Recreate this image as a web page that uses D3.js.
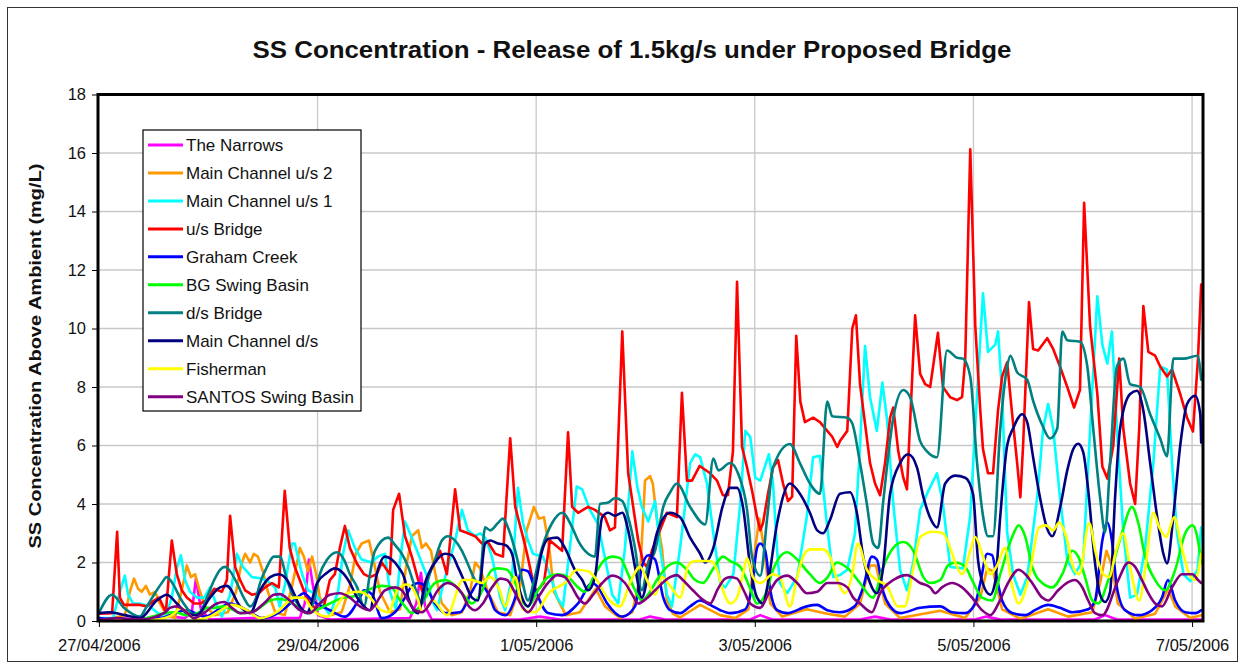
<!DOCTYPE html>
<html><head><meta charset="utf-8">
<script src="https://cdn.jsdelivr.net/npm/d3@7"></script>
<style>
body{margin:0;background:#fff}
svg{display:block}
text{font-family:Arial,"Liberation Sans",sans-serif;fill:#111}
</style>
</head><body>
<svg id="chart" width="1245" height="670"></svg>
<script>
// ---------------- DATA (hours since 27/04/2006 00:00, value mg/L) ----------------
const chartTitle = "SS Concentration - Release of 1.5kg/s under Proposed Bridge";
const yTitle = "SS Concentration Above Ambient (mg/L)";
const yTickValues = [0,2,4,6,8,10,12,14,16,18];
const xTickDays = ["2006-04-27","2006-04-29","2006-05-01","2006-05-03","2006-05-05","2006-05-07"];
const seriesNames = ["The Narrows","Main Channel u/s 2","Main Channel u/s 1","u/s Bridge","Graham Creek","BG Swing Basin","d/s Bridge","Main Channel d/s","Fisherman","SANTOS Swing Basin"];
const seriesColors = ["#ff00ff","#ff9900","#00ffff","#ff0000","#0000ff","#00ff00","#008080","#000080","#ffff00","#800080"];

const theNarrows = [[0,0.02],[6.8,0.05],[15.6,0.15],[18.9,0.1],[20.4,0.3],[21.3,1.45],[22.4,0.4],[24.4,0.05],[33.2,0.1],[44.1,0.1],[45.2,0.6],[46.1,2.1],[47.0,1.2],[48.1,0.2],[50.7,0.05],[68.3,0.1],[69.7,0.6],[70.7,1.65],[71.6,0.5],[73.1,0.05],[92.5,0.05],[96.8,0.15],[101.2,0.05],[118.8,0.05],[121.0,0.15],[124.3,0.05],[143.0,0.05],[145.2,0.2],[147.8,0.05],[167.1,0.05],[170.4,0.15],[173.7,0.05],[192.4,0.05],[194.8,0.15],[197.9,0.05],[218.7,0.05],[220.9,0.2],[223.5,0.05],[242,0.05]];

const mainChannelUs2 = [[0,0],[5.7,0.2],[6.8,1.0],[7.7,1.45],[8.6,1.1],[9.4,1.0],[10.3,1.2],[11.2,0.9],[12.3,1.0],[13.4,0.6],[14.9,0.2],[16.7,0.1],[18.4,1.2],[19.3,1.9],[20.2,1.5],[21.1,1.6],[22.0,1.1],[23.3,0.5],[25.5,0.2],[28.3,0.3],[30.1,1.0],[31.2,1.9],[32.1,2.3],[33.2,2.0],[34.0,2.3],[34.9,2.2],[36.0,1.7],[37.1,1.0],[38.7,0.3],[40.8,0.2],[42.4,1.2],[43.5,2.0],[44.1,2.5],[45.0,2.2],[45.9,1.7],[46.8,2.2],[47.7,1.6],[48.5,0.8],[50.7,0.2],[53.3,0.3],[55.1,1.2],[56.4,2.3],[57.7,2.65],[59.3,2.75],[60.4,2.0],[61.7,1.0],[63.9,0.3],[66.1,0.4],[67.4,1.8],[68.7,2.9],[70.1,3.1],[70.9,2.5],[71.8,2.65],[72.9,2.4],[74.0,1.5],[75.3,0.6],[77.5,0.2],[79.7,0.3],[81.5,1.0],[82.6,2.0],[83.7,1.8],[85.4,1.0],[87.6,0.3],[90.3,0.2],[92.5,1.2],[93.9,3.1],[94.8,3.55],[95.5,3.9],[96.6,3.5],[97.7,3.55],[98.8,2.6],[99.9,1.0],[102.5,0.2],[105.6,0.3],[107.8,0.8],[109.1,1.1],[111.1,0.5],[114.4,0.1],[117.1,0.3],[118.8,1.5],[119.9,4.8],[121.0,4.95],[121.6,4.7],[122.5,3.5],[123.6,2.5],[124.7,0.7],[126.0,0.25],[127.6,0.12],[132.0,0.55],[136.4,0.2],[139.7,0.1],[142.6,0.4],[144.1,2.5],[145.0,3.5],[146.1,2.4],[147.4,0.6],[150.0,0.15],[155.4,0.4],[159.9,0.25],[163.8,0.15],[167.1,0.6],[169.3,1.9],[170.6,1.9],[172.6,0.6],[175.9,0.1],[184.7,0.35],[190.2,0.1],[193.5,0.8],[195.0,1.8],[196.3,1.7],[198.3,0.4],[202.3,0.08],[208.4,0.4],[212.8,0.15],[218.1,0.3],[219.8,1.3],[221.2,2.4],[222.4,1.9],[223.7,0.6],[227.5,0.08],[231.9,0.25],[234.1,0.9],[234.7,1.1],[236.3,0.5],[239.6,0.1],[242,0.2]];

const mainChannelUs1 = [[0,0.1],[3.1,0.1],[4.6,1.0],[5.7,1.55],[6.4,0.9],[7.5,0.6],[9.0,0.6],[11.2,0.5],[12.7,0.3],[14.5,0.1],[16.0,0.8],[17.1,1.8],[18.0,2.25],[18.9,1.4],[20.0,1.0],[21.5,0.8],[23.1,0.8],[24.4,1.15],[25.7,0.6],[27.0,0.15],[28.8,0.9],[30.3,2.3],[31.6,1.85],[33.6,1.5],[35.8,1.45],[37.1,1.35],[38.7,1.15],[39.7,0.5],[40.8,1.2],[42.4,2.65],[43.0,2.65],[44.6,1.6],[45.9,1.05],[47.4,0.95],[49.0,0.6],[50.7,0.2],[52.5,1.0],[53.6,2.3],[54.7,3.1],[56.2,2.5],[57.7,2.1],[59.9,2.0],[61.2,2.2],[62.8,2.3],[63.9,1.0],[65.2,0.4],[66.1,2.0],[67.2,3.4],[68.3,3.0],[70.1,2.3],[72.1,1.5],[73.1,0.7],[74.2,0.37],[76.0,1.5],[78.2,2.75],[79.7,3.8],[81.0,3.1],[82.6,2.9],[83.7,3.0],[84.8,2.85],[86.3,2.2],[88.1,0.8],[89.2,0.37],[90.7,1.5],[92.0,4.55],[93.1,3.35],[94.2,2.75],[95.3,2.3],[97.5,2.2],[99.0,1.6],[100.6,0.8],[101.9,0.5],[103.4,2.5],[104.9,4.6],[106.1,4.5],[107.8,3.8],[109.6,3.3],[111.3,2.0],[112.7,0.9],[114.0,0.6],[115.5,2.5],[117.1,5.8],[118.2,4.6],[119.2,3.9],[120.6,3.4],[122.1,4.1],[123.2,2.5],[124.7,0.9],[125.8,0.5],[127.6,2.5],[129.8,5.4],[130.9,5.7],[132.0,5.6],[133.5,4.7],[134.9,3.0],[136.4,1.3],[137.5,1.15],[139.3,1.6],[140.8,4.0],[141.9,6.5],[143.0,6.3],[144.1,4.9],[145.2,4.8],[147.1,5.7],[148.0,4.7],[148.9,2.4],[149.5,1.3],[151.1,0.95],[153.3,1.5],[155.4,3.55],[156.8,5.6],[158.3,5.65],[159.7,3.5],[161.2,1.5],[162.7,1.57],[164.3,1.75],[166.0,3.0],[167.1,6.0],[168.2,9.4],[169.3,7.65],[170.8,6.5],[172.0,8.15],[173.0,6.95],[174.4,4.0],[175.9,1.75],[177.4,1.05],[178.8,2.0],[180.3,3.8],[182.1,4.45],[184.0,5.05],[185.3,4.0],[186.9,1.85],[189.7,1.8],[191.3,3.6],[192.8,7.76],[194.1,11.2],[195.2,9.2],[196.8,9.45],[197.4,9.9],[198.3,7.76],[199.4,3.03],[200.7,1.6],[202.3,0.9],[203.8,1.5],[206.0,4.23],[207.3,6.58],[208.4,7.42],[209.5,6.58],[211.0,4.23],[212.6,2.1],[214.3,1.6],[216.1,2.1],[217.6,6.5],[219.2,11.1],[220.3,9.45],[221.4,8.8],[222.4,9.9],[223.5,6.58],[224.9,3.03],[226.4,0.8],[227.9,0.9],[229.7,2.5],[231.5,5.4],[233.0,8.7],[234.5,8.6],[235.6,5.4],[236.7,3.0],[238.1,1.6],[239.6,1.36],[241.2,1.75],[242,3.2]];

const usBridge = [[0,0.25],[2.9,0.27],[4.0,3.05],[4.6,0.8],[5.5,0.55],[9.0,0.55],[10.5,0.5],[12.1,0.7],[13.2,0.8],[14.7,0.3],[16.0,2.75],[17.1,1.6],[18.2,1.05],[19.3,0.8],[20.9,0.6],[22.2,0.6],[23.7,0.7],[25.3,1.1],[27.0,1.0],[28.1,1.4],[28.8,3.6],[29.9,1.85],[31.0,1.4],[32.1,1.05],[33.6,0.9],[35.1,0.95],[36.5,1.15],[38.0,1.3],[39.5,1.15],[40.8,4.45],[41.9,2.5],[43.0,1.85],[44.1,1.4],[45.2,0.95],[46.3,0.6],[47.9,0.4],[49.4,0.5],[50.7,1.4],[51.8,1.6],[52.9,2.5],[54.0,3.25],[55.1,2.5],[56.7,1.95],[58.2,1.6],[59.5,1.5],[61.0,1.6],[62.1,2.0],[63.9,1.6],[64.6,3.8],[65.9,4.35],[67.2,2.9],[68.7,2.2],[70.1,1.4],[71.2,0.95],[73.1,1.85],[74.9,2.4],[76.4,1.6],[78.2,4.5],[79.3,3.1],[81.0,3.0],[82.6,2.9],[84.1,2.65],[85.4,2.7],[87.0,2.3],[88.7,2.2],[90.3,6.25],[91.4,3.9],[92.9,3.0],[94.0,2.3],[95.1,1.5],[96.0,1.0],[97.7,1.3],[99.0,2.75],[101.7,2.4],[103.0,6.45],[103.9,3.9],[105.2,3.7],[107.4,3.9],[108.9,3.8],[111.1,3.55],[112.2,3.1],[113.3,3.2],[114.9,9.9],[116.2,5.05],[117.3,3.9],[118.4,2.75],[119.5,2.0],[120.3,1.85],[121.4,2.4],[124.7,3.7],[126.9,3.55],[128.0,7.8],[129.1,4.8],[130.2,4.8],[131.9,5.3],[134.2,5.05],[135.7,4.8],[137.0,4.3],[138.1,4.3],[139.2,5.8],[140.1,11.6],[141.2,5.95],[142.3,5.25],[143.4,4.45],[144.5,3.55],[145.2,3.1],[145.8,3.35],[146.9,4.35],[148.0,5.25],[149.1,5.5],[150.2,4.7],[151.3,4.1],[152.2,4.25],[153.1,9.75],[154.0,7.5],[155.0,6.8],[156.8,6.95],[158.3,6.8],[159.9,6.5],[161.0,6.3],[162.1,5.95],[162.7,6.15],[164.3,6.5],[165.4,10.0],[166.2,10.45],[167.1,8.1],[168.2,6.75],[169.3,5.4],[170.4,4.7],[171.5,4.3],[172.6,5.4],[173.7,6.95],[174.4,7.3],[175.5,5.8],[176.6,4.9],[177.4,4.5],[179.2,10.45],[180.3,8.45],[181.4,8.1],[182.5,8.0],[184.2,9.85],[185.3,8.0],[186.9,7.65],[188.4,7.55],[189.5,7.65],[190.2,8.97],[191.3,16.13],[192.4,10.1],[193.5,7.2],[194.1,5.87],[195.2,5.05],[196.3,5.05],[197.4,7.2],[198.3,8.36],[199.4,8.84],[200.5,7.07],[201.6,5.4],[202.3,4.23],[202.9,6.0],[204.2,10.9],[205.1,9.3],[206.2,9.25],[208.2,9.67],[209.5,9.3],[211.0,8.7],[212.6,8.0],[214.1,7.3],[215.4,7.9],[216.3,14.3],[217.6,10.1],[219.2,7.76],[220.3,5.28],[221.4,4.87],[222.7,6.0],[224.0,8.97],[224.9,6.58],[226.4,4.7],[227.5,4.0],[228.4,6.58],[229.3,10.77],[230.4,9.2],[231.9,9.07],[233.0,8.7],[234.5,8.36],[235.6,8.6],[237.4,7.76],[238.9,6.95],[240.2,6.48],[241.3,8.97],[242,11.5]];

const grahamCreek = [[0,0.1],[4.6,0.05],[13.4,0.1],[19.3,0.37],[23.3,0.15],[28.8,0.6],[32.5,0.37],[35.8,0.1],[39.7,0.3],[43.5,0.8],[45.0,0.95],[46.8,0.7],[50.7,0.37],[54.0,0.15],[57.3,0.8],[58.2,1.05],[60.0,0.9],[62.1,0.1],[65.0,0.3],[67.2,0.8],[68.7,1.2],[70.1,1.3],[71.6,1.2],[73.8,0.6],[76.0,0.27],[79.3,0.3],[81.9,1.0],[83.2,1.3],[85.6,0.9],[87.0,0.37],[89.2,0.2],[91.4,0.8],[92.9,1.75],[94.2,1.7],[95.7,1.1],[98.6,0.27],[101.7,0.2],[105.2,0.6],[108.3,1.3],[109.6,1.15],[111.6,0.6],[114.9,0.15],[117.7,0.5],[119.2,1.85],[120.6,2.25],[122.1,2.1],[123.9,0.8],[125.4,0.37],[127.6,0.27],[129.8,0.5],[132.0,0.7],[134.2,0.55],[136.4,0.37],[138.6,0.27],[141.9,0.4],[143.4,1.2],[144.5,2.5],[145.2,2.65],[146.3,2.4],[147.4,1.05],[148.9,0.37],[151.1,0.27],[155.4,0.5],[157.7,0.55],[159.9,0.37],[162.7,0.3],[165.9,0.5],[167.8,1.15],[169.7,2.2],[170.8,2.1],[172.2,1.0],[173.7,0.5],[175.9,0.27],[180.3,0.45],[184.7,0.5],[187.3,0.3],[190.2,0.27],[192.4,0.6],[193.5,1.3],[195.0,2.3],[196.1,2.25],[197.1,1.5],[198.3,0.7],[200.5,0.27],[203.4,0.2],[205.5,0.37],[208.4,0.55],[211.0,0.45],[213.7,0.3],[217.2,0.4],[218.7,0.7],[220.3,2.75],[221.4,3.37],[222.4,2.75],[223.5,1.15],[225.3,0.37],[228.2,0.2],[231.2,0.37],[233.4,0.8],[234.7,1.4],[236.3,0.7],[238.5,0.3],[240.7,0.27],[242,0.37]];

const bgSwingBasin = [[0,0.02],[9.0,0.05],[12.7,0.2],[14.3,0.27],[16.7,0.3],[19.3,0.2],[22.2,0.3],[23.7,0.45],[25.3,0.45],[27.5,0.5],[29.2,0.4],[31.0,0.27],[34.3,0.35],[37.6,0.7],[39.5,0.75],[41.3,0.7],[43.5,0.5],[45.7,0.27],[48.1,0.4],[50.7,0.6],[53.8,0.8],[56.0,0.85],[58.2,1.0],[60.6,1.15],[62.1,1.2],[64.3,1.15],[65.7,0.8],[67.2,0.5],[68.7,0.27],[70.9,0.6],[73.8,1.3],[76.0,1.4],[77.5,1.3],[79.7,0.95],[81.9,0.6],[83.7,0.9],[86.3,1.75],[87.6,1.8],[89.6,1.75],[91.4,1.3],[92.9,0.7],[94.2,0.5],[96.4,1.05],[98.6,1.5],[100.8,1.6],[103.0,1.5],[105.2,1.15],[106.7,1.0],[108.9,1.6],[111.1,2.1],[112.7,2.2],[114.4,2.15],[116.2,1.6],[117.7,1.05],[119.2,0.7],[121.0,1.0],[122.5,1.4],[124.7,1.85],[126.9,2.0],[129.1,1.75],[130.9,1.4],[132.6,1.3],[134.9,1.8],[137.0,2.2],[138.6,2.05],[140.8,1.85],[143.0,1.1],[144.5,0.6],[146.3,0.9],[148.0,1.75],[151.1,2.35],[153.3,2.1],[156.1,1.6],[158.3,1.3],[160.0,1.5],[162.0,2.0],[164.4,1.8],[167.1,1.3],[169.9,0.8],[172.2,1.85],[174.4,2.5],[176.6,2.7],[178.8,2.4],[181.0,1.5],[182.5,1.3],[184.7,1.4],[186.4,1.9],[188.0,2.0],[190.2,1.85],[191.7,1.4],[193.9,0.8],[196.1,0.7],[197.9,1.6],[200.5,2.87],[201.9,3.27],[203.4,2.87],[204.9,1.85],[207.1,1.3],[209.3,1.15],[211.5,1.6],[213.7,2.4],[215.0,2.2],[216.5,1.5],[218.1,0.7],[219.4,0.6],[221.6,1.4],[224.6,3.0],[226.8,3.9],[228.2,3.35],[229.7,2.2],[231.9,1.4],[234.1,1.05],[236.3,1.75],[238.5,3.0],[240.1,3.27],[241.3,2.75],[242,2.0]];

const dsBridge = [[0,0.27],[2.9,0.9],[5.5,0.45],[9.0,0.15],[10.5,0.5],[12.3,0.95],[13.8,1.3],[14.9,1.5],[16.5,1.2],[17.8,0.8],[19.3,0.45],[20.9,0.2],[22.2,0.3],[23.7,0.8],[25.3,1.4],[26.6,1.75],[27.7,1.85],[28.8,1.7],[30.3,1.3],[31.8,0.8],[33.2,0.5],[34.5,0.8],[35.4,1.3],[36.9,1.85],[38.4,2.2],[39.7,2.2],[41.3,1.4],[42.8,0.8],[44.1,0.5],[45.7,0.27],[47.2,0.7],[48.5,1.6],[50.1,2.1],[52.3,2.35],[53.8,2.1],[55.1,1.6],[56.7,1.15],[58.2,0.5],[59.5,1.6],[60.6,2.4],[63.5,2.85],[65.0,2.6],[66.5,2.3],[67.9,1.85],[69.4,1.15],[70.9,0.6],[72.2,1.4],[73.8,2.1],[75.3,2.75],[76.6,2.9],[78.2,2.75],[79.7,2.4],[81.0,1.95],[82.6,1.4],[83.5,1.3],[84.8,3.2],[85.9,3.1],[87.6,3.35],[88.7,3.5],[89.8,3.2],[91.4,2.4],[92.9,1.4],[94.2,0.7],[95.7,1.5],[97.3,2.5],[99.5,3.35],[101.7,3.7],[103.9,3.2],[105.2,2.75],[107.4,2.3],[108.9,2.2],[110.0,4.0],[111.8,4.05],[113.3,4.2],[114.9,4.1],[116.2,3.55],[117.7,2.5],[119.2,1.05],[120.6,1.95],[122.1,2.4],[123.9,3.9],[125.4,4.4],[126.9,4.7],[129.8,3.9],[133.1,3.3],[134.9,5.55],[136.0,5.15],[138.6,5.4],[140.3,5.05],[142.3,3.8],[143.4,2.2],[145.2,1.55],[146.7,3.5],[148.0,5.25],[151.7,6.05],[153.9,5.4],[156.1,4.7],[158.3,4.35],[159.9,7.5],[161.0,7.0],[164.3,6.95],[165.4,6.75],[167.1,5.4],[168.6,4.0],[170.0,2.65],[171.1,2.5],[172.2,4.1],[174.4,6.95],[176.6,7.9],[178.1,7.65],[180.3,6.15],[181.8,5.8],[184.0,5.6],[186.2,9.25],[188.4,9.0],[189.7,8.97],[191.3,8.36],[192.8,5.4],[194.1,3.6],[195.2,2.9],[196.3,2.9],[197.9,6.58],[199.4,8.7],[200.1,9.07],[201.6,8.5],[203.8,8.25],[205.1,7.53],[207.1,6.7],[208.8,6.24],[210.4,6.58],[211.5,9.9],[212.6,9.6],[215.4,9.55],[217.0,8.7],[218.3,6.58],[219.8,4.23],[220.9,3.03],[222.0,5.4],[223.5,8.7],[224.9,8.97],[226.4,8.1],[228.6,8.0],[230.8,7.07],[233.0,6.24],[234.5,5.63],[235.9,8.97],[238.1,8.97],[241.2,9.07],[242,8.25]];

const mainChannelDs = [[0,0.27],[2.4,0.3],[5.7,0.2],[9.0,0.1],[12.7,0.7],[14.9,0.9],[17.1,0.6],[19.3,0.27],[21.5,0.2],[24.4,0.8],[26.6,1.15],[28.1,1.2],[31.0,0.5],[33.2,0.27],[35.4,1.05],[37.6,1.5],[39.5,1.6],[41.3,1.4],[42.8,0.95],[44.1,0.5],[45.7,0.3],[47.9,1.3],[50.1,1.65],[51.8,1.8],[53.8,1.6],[55.1,1.3],[56.7,0.8],[58.2,0.5],[59.5,0.37],[61.0,1.6],[62.8,2.2],[64.3,2.1],[65.7,1.85],[67.2,1.4],[67.9,0.8],[70.1,0.27],[71.6,1.3],[73.8,2.0],[76.0,2.3],[77.5,2.25],[78.8,1.85],[80.4,1.3],[81.9,0.8],[83.2,0.7],[84.8,2.65],[85.9,2.75],[87.6,2.65],[89.2,2.6],[90.7,2.3],[91.8,1.4],[92.9,0.8],[94.2,0.5],[95.7,1.15],[97.3,2.4],[98.6,2.8],[100.6,2.85],[102.3,2.5],[104.5,1.75],[106.1,1.4],[107.4,1.05],[108.9,1.5],[110.5,3.55],[111.8,3.7],[113.3,3.6],[114.9,3.7],[116.2,3.1],[117.7,1.85],[119.2,0.8],[120.6,1.6],[122.5,3.0],[125.4,3.7],[127.6,3.55],[129.8,2.85],[132.0,2.3],[133.1,2.0],[134.9,2.5],[136.9,3.9],[138.6,4.55],[140.1,4.55],[141.4,3.9],[143.0,1.85],[144.5,0.8],[145.8,0.6],[146.9,1.3],[148.9,3.35],[151.7,4.7],[153.9,4.35],[156.1,3.7],[157.7,3.1],[159.0,3.0],[160.5,3.45],[162.7,4.35],[164.9,4.4],[166.4,3.7],[167.8,2.2],[169.3,1.3],[170.8,0.95],[172.2,1.85],[173.7,4.35],[175.9,5.4],[177.7,5.7],[179.6,5.25],[181.0,4.25],[182.9,3.4],[184.0,3.2],[185.8,4.7],[188.0,4.97],[190.2,4.9],[191.9,4.35],[193.0,2.1],[194.1,1.26],[195.7,0.9],[196.8,1.36],[197.9,3.6],[199.4,6.0],[200.7,6.58],[202.7,7.07],[203.8,6.8],[205.1,5.6],[206.6,4.23],[208.2,3.15],[209.3,2.9],[211.0,3.86],[212.6,5.15],[213.9,5.87],[215.0,6.06],[216.1,5.77],[217.2,4.47],[218.7,1.97],[219.8,0.9],[220.9,0.65],[222.0,1.0],[223.1,4.23],[224.2,6.58],[226.4,7.76],[227.9,7.87],[229.3,7.2],[230.8,5.4],[232.3,3.6],[233.7,2.3],[234.5,1.97],[235.9,3.6],[237.4,6.0],[238.9,7.42],[240.7,7.7],[241.8,7.07],[242,6.1]];

const fisherman = [[0,0.02],[11.2,0.03],[14.5,0.1],[16.7,0.27],[17.8,0.45],[19.3,0.3],[21.1,0.05],[24.4,0.15],[26.6,0.35],[29.2,0.55],[32.5,0.37],[35.4,0.1],[39.5,0.35],[42.8,0.8],[44.8,0.8],[47.0,0.37],[50.1,0.15],[54.5,0.95],[57.3,1.0],[59.5,0.8],[61.7,0.4],[63.5,0.3],[65.7,1.1],[67.6,1.25],[68.9,1.1],[70.1,0.7],[70.9,0.3],[73.3,0.7],[76.4,0.2],[79.9,1.4],[81.9,1.4],[84.1,1.3],[85.9,1.5],[88.1,1.0],[89.2,0.5],[91.4,1.5],[93.1,0.4],[95.7,0.3],[99.0,1.0],[102.3,1.3],[105.0,1.75],[107.4,1.7],[109.3,1.4],[111.6,0.8],[114.4,0.5],[116.6,1.3],[118.8,1.85],[120.6,1.3],[122.1,0.9],[123.6,1.5],[125.4,1.2],[127.6,0.8],[129.4,1.9],[130.9,2.05],[134.2,2.05],[135.7,1.75],[137.0,1.05],[138.6,0.6],[140.1,0.8],[141.4,1.6],[142.3,2.15],[143.6,1.5],[145.2,1.3],[148.0,1.6],[149.5,1.5],[151.7,0.5],[153.3,1.5],[154.6,2.2],[156.1,2.45],[159.0,2.45],[160.5,2.2],[162.1,1.4],[163.8,0.95],[165.4,1.6],[166.6,2.65],[168.6,1.75],[170.8,1.4],[173.0,1.2],[175.4,0.5],[176.9,0.5],[178.8,1.8],[180.3,2.87],[183.1,3.05],[185.3,3.0],[186.9,2.5],[188.0,2.0],[189.5,1.6],[191.3,2.4],[192.4,2.87],[193.9,2.3],[195.7,1.6],[197.2,1.9],[198.9,2.5],[200.5,1.2],[201.9,0.6],[204.2,1.5],[206.4,3.2],[207.9,3.27],[209.5,3.1],[210.8,3.37],[212.4,2.87],[213.9,1.85],[215.2,1.6],[217.4,3.35],[218.9,2.3],[220.5,1.6],[221.8,1.5],[223.3,2.4],[224.9,3.0],[226.2,2.0],[228.4,0.7],[229.9,2.0],[231.5,3.7],[232.8,3.2],[234.3,2.87],[236.1,3.55],[237.6,2.6],[239.4,1.6],[240.7,1.4],[242,2.3]];

const santosSwingBasin = [[0,0.03],[4.0,0.1],[9.0,0.05],[14.3,0.27],[15.6,0.45],[17.1,0.5],[18.9,0.35],[20.9,0.1],[23.3,0.3],[25.9,0.6],[27.5,0.65],[29.2,0.45],[31.0,0.27],[33.6,0.3],[36.2,0.6],[38.4,0.9],[39.7,0.92],[41.9,0.7],[44.1,0.37],[46.3,0.27],[48.5,0.6],[50.7,0.9],[52.9,0.95],[55.1,0.8],[57.3,0.5],[59.5,0.37],[60.6,0.55],[62.8,1.05],[65.0,1.15],[66.5,1.05],[67.9,0.7],[69.4,0.37],[70.9,0.3],[72.7,0.6],[74.4,1.05],[76.6,1.3],[78.2,1.2],[79.7,0.95],[81.0,0.55],[82.6,0.37],[84.3,0.6],[86.3,1.15],[88.1,1.45],[89.6,1.4],[91.4,0.95],[92.9,0.5],[94.2,0.3],[96.4,0.8],[98.6,1.3],[100.6,1.57],[102.3,1.5],[103.9,1.15],[105.2,0.8],[106.7,0.6],[108.5,0.9],[110.5,1.3],[112.7,1.55],[114.0,1.5],[115.5,1.3],[117.1,0.9],[118.4,0.6],[120.1,0.75],[122.1,1.05],[125.4,1.5],[126.9,1.57],[128.2,1.4],[130.4,1.05],[132.4,0.75],[134.2,0.6],[135.9,1.1],[137.5,1.45],[138.6,1.5],[140.1,1.45],[141.7,1.0],[143.0,0.6],[145.2,0.45],[146.9,0.9],[148.9,1.4],[151.1,1.55],[153.3,1.3],[155.4,0.95],[157.7,1.0],[159.9,1.3],[162.1,1.3],[164.3,1.15],[165.6,0.8],[167.1,0.6],[169.7,0.3],[171.5,0.95],[174.4,1.4],[177.4,1.57],[180.3,1.3],[182.5,1.15],[183.6,0.95],[185.1,1.15],[187.3,1.3],[189.5,1.15],[191.7,0.8],[193.9,0.37],[195.7,0.2],[197.5,0.6],[199.6,1.3],[201.9,1.75],[203.4,1.6],[204.9,1.3],[207.1,0.8],[208.4,0.7],[210.6,1.05],[212.8,1.33],[214.3,1.4],[215.9,1.15],[217.2,0.7],[218.7,0.27],[220.3,0.2],[223.8,1.4],[226.0,2.0],[227.5,1.85],[229.0,1.4],[230.4,0.95],[231.9,0.6],[233.4,0.5],[235.6,1.15],[237.8,1.6],[240.1,1.6],[241.3,1.4],[242,1.3]];

const seriesData = [theNarrows, mainChannelUs2, mainChannelUs1, usBridge, grahamCreek, bgSwingBasin, dsBridge, mainChannelDs, fisherman, santosSwingBasin];
const smoothSeries = [false,false,false,false,true,true,true,true,true,true];

// ---------------- DRAWING ----------------
const svg = d3.select("#chart");
const t0 = Date.UTC(2006,3,27);
const toDate = h => new Date(t0 + h*3600e3);
const plot = {left:98, right:1203, top:94.5, bottom:621};

const x = d3.scaleUtc().domain([toDate(-0.2), toDate(242.4)]).range([plot.left, plot.right]);
const y = d3.scaleLinear().domain([0,18]).range([plot.bottom, plot.top]);

// outer frame
svg.append("rect").attr("x",7.5).attr("y",7.5).attr("width",1230).attr("height",654)
  .attr("fill","#fff").attr("stroke","#333").attr("stroke-width",1);

// title
svg.append("text").attr("x",632).attr("y",58).attr("text-anchor","middle")
  .attr("font-size",23).attr("font-weight","bold").attr("textLength",759).attr("lengthAdjust","spacingAndGlyphs")
  .text(chartTitle);

// y title
svg.append("text").attr("transform","translate(41,356) rotate(-90)").attr("text-anchor","middle")
  .attr("font-size",17).attr("font-weight","bold").attr("textLength",385).attr("lengthAdjust","spacingAndGlyphs")
  .text(yTitle);

// grid
const xTickDates = xTickDays.map(s => new Date(s+"T00:00:00Z"));
svg.append("g").selectAll("line.h").data(yTickValues.filter(v=>v>0 && v<18)).join("line")
  .attr("x1",plot.left).attr("x2",plot.right).attr("y1",d=>y(d)).attr("y2",d=>y(d))
  .attr("stroke","#c8c8c8").attr("stroke-width",1.3);
svg.append("g").selectAll("line.v").data(xTickDates.slice(1)).join("line")
  .attr("x1",d=>x(d)).attr("x2",d=>x(d)).attr("y1",plot.top).attr("y2",plot.bottom)
  .attr("stroke","#c8c8c8").attr("stroke-width",1.3);

// series
svg.append("clipPath").attr("id","clip").append("rect")
  .attr("x",plot.left).attr("y",plot.top).attr("width",plot.right-plot.left).attr("height",plot.bottom-plot.top+2);
const gS = svg.append("g").attr("clip-path","url(#clip)");
seriesData.forEach((data,i) => {
  const line = d3.line().x(d=>x(toDate(d[0]))).y(d=>y(d[1]))
    .curve(smoothSeries[i] ? d3.curveMonotoneX : d3.curveLinear);
  gS.append("path").datum(data).attr("d",line).attr("fill","none")
    .attr("stroke",seriesColors[i]).attr("stroke-width",2.6)
    .attr("stroke-linejoin","round").attr("stroke-linecap","round");
});

// plot frame
svg.append("rect").attr("x",plot.left).attr("y",plot.top).attr("width",plot.right-plot.left).attr("height",plot.bottom-plot.top)
  .attr("fill","none").attr("stroke","#000").attr("stroke-width",3);

// axes
const yAxis = d3.axisLeft(y).tickValues(yTickValues).tickSize(6).tickPadding(6).tickFormat(d3.format("d"));
const gy = svg.append("g").attr("transform",`translate(${plot.left},0)`).call(yAxis);
gy.select(".domain").remove();
gy.selectAll("text").attr("font-size",16.5).attr("fill","#111").attr("font-family","Arial, 'Liberation Sans', sans-serif");
gy.selectAll("line").attr("stroke","#000");

const xAxis = d3.axisBottom(x).tickValues(xTickDates).tickSize(6).tickPadding(12)
  .tickFormat(d3.utcFormat("%-d/%m/%Y"));
const gx = svg.append("g").attr("transform",`translate(0,${plot.bottom})`).call(xAxis);
gx.select(".domain").remove();
gx.selectAll("text").attr("font-size",16.5).attr("fill","#111").attr("font-family","Arial, 'Liberation Sans', sans-serif");
gx.selectAll("line").attr("stroke","#000");

// legend
const lg = svg.append("g").attr("transform","translate(143,130)");
lg.append("rect").attr("x",0).attr("y",0).attr("width",218).attr("height",281)
  .attr("fill","#fff").attr("stroke","#000").attr("stroke-width",1.2);
seriesNames.forEach((name,i) => {
  const cy = 15 + i*27.96;
  lg.append("line").attr("x1",5).attr("x2",40).attr("y1",cy).attr("y2",cy)
    .attr("stroke",seriesColors[i]).attr("stroke-width",3);
  lg.append("text").attr("x",43).attr("y",cy).attr("dy","0.36em").attr("font-size",17).text(name);
});
</script>
</body></html>
